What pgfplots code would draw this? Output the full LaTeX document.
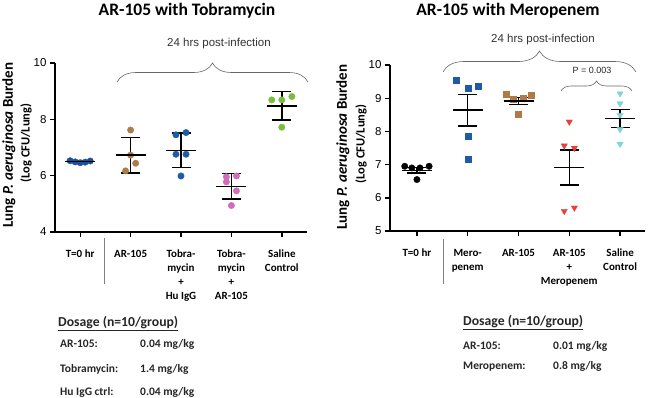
\documentclass[border=0pt]{standalone}
\usepackage{fontspec}
\setmainfont{Carlito}
\newfontfamily\arial{Liberation Sans}
\usepackage{pgfplots}
\pgfplotsset{compat=1.18}
\usetikzlibrary{decorations.pathreplacing}
\definecolor{tzero}{HTML}{1F4E99}
\definecolor{brownc}{HTML}{B07A47}
\definecolor{bluec}{HTML}{1F5AA8}
\definecolor{pinkc}{HTML}{D16CBB}
\definecolor{greenc}{HTML}{78BE3C}
\definecolor{redc}{HTML}{E8403A}
\definecolor{cyanc}{HTML}{7FD4DA}
\definecolor{bracec}{HTML}{666666}
\pgfplotsset{
  myax/.style={scale only axis, anchor=south west, axis lines*=left,
    axis line style={line width=1.4pt, black},
    xtick={0,1,2,3,4},
    tick style={line width=1.4pt, black}, major tick length=5pt, tick align=outside,
    clip=false,
    /pgf/number format/assume math mode=true,
    yticklabel style={font=\arial\fontsize{11.5}{13}\selectfont},
    xticklabel style={font=\bfseries\fontsize{11}{14}\selectfont, align=center, anchor=north, inner sep=0pt, yshift=-13pt},
  },
  dots/.style={only marks, mark=*, mark size=3.2pt, draw=#1, fill=#1},
  sq/.style={only marks, mark=square*, mark size=3pt, draw=#1, fill=#1},
  tri/.style={only marks, mark=triangle*, mark size=3.6pt, draw=#1, fill=#1, mark options={rotate=180}},
  meanerr/.style={black, only marks, mark=-, mark size=15pt, mark options={line width=1.4pt},
    error bars/.cd, y dir=both, y explicit, error bar style={line width=1.4pt},
    error mark=|, error mark options={line width=1.4pt, mark size=9.5pt}},
}
\begin{document}
\begin{tikzpicture}
\path[use as bounding box] (0,0) rectangle (648pt,-397pt);
% ---------- Left panel ----------
\begin{axis}[myax, at={(55pt,-232pt)}, width=252pt, height=169pt,
  xmin=-0.5, xmax=4.5, ymin=4, ymax=10, ytick={4,6,8,10},
  xticklabels={{T=0 hr}, AR-105, {Tobra-\\mycin\\+\\Hu IgG}, {Tobra-\\mycin\\+\\AR-105}, {Saline\\Control}}]
\addplot[dots=tzero] coordinates {(-0.2,6.53) (-0.1,6.49) (0,6.46) (0.1,6.48) (0.2,6.52)};
\addplot[dots=brownc] coordinates {(1,7.62) (1.1,6.44) (1,6.73) (0.9,6.17)};
\addplot[dots=bluec] coordinates {(1.9,7.45) (2.1,7.53) (1.9,6.76) (2.1,6.76) (2,5.99)};
\addplot[dots=pinkc] coordinates {(2.9,5.96) (3.1,5.99) (2.9,5.78) (3.1,5.46) (3,4.94)};
\addplot[dots=greenc] coordinates {(3.8,8.69) (4,8.69) (4.2,8.81) (4,7.72)};
\addplot[meanerr] coordinates {(0,6.50) +- (0,0.03) (1,6.73) +- (0,0.63) (2,6.90) +- (0,0.62) (3,5.62) +- (0,0.45) (4,8.48) +- (0,0.51)};
\end{axis}
% ---------- Right panel ----------
\begin{axis}[myax, at={(390pt,-231pt)}, width=255pt, height=166pt,
  xmin=-0.53, xmax=4.49, ymin=5, ymax=10, ytick={5,6,7,8,9,10},
  xticklabels={{T=0 hr}, {Mero-\\penem}, AR-105, {AR-105\\+\\Meropenem}, {Saline\\Control}}]
\addplot[dots=black] coordinates {(-0.24,6.95) (-0.1,6.90) (0.06,6.90) (0.24,6.95) (0,6.55)};
\addplot[sq=bluec] coordinates {(0.77,9.53) (1,9.30) (1.2,9.37) (1,7.87) (1,7.16)};
\addplot[sq=brownc] coordinates {(1.75,9.11) (2.24,9.09) (2,8.52) (1.9,8.98) (2.1,9.00)};
\addplot[tri=redc] coordinates {(3,8.29) (2.9,7.57) (3.1,7.50) (2.9,5.60) (3.1,5.70)};
\addplot[tri=cyanc] coordinates {(4,9.14) (4,8.84) (4,8.49) (4,8.06) (4,7.62)};
\addplot[meanerr] coordinates {(0,6.83) +- (0,0.08) (1,8.64) +- (0,0.48) (2,8.92) +- (0,0.11) (3,6.91) +- (0,0.53) (4,8.39) +- (0,0.27)};
\end{axis}
% ---------- annotations ----------
\node[font=\bfseries\fontsize{17.5}{19}\selectfont] at (187pt,-11pt) {AR-105 with Tobramycin};
\node[font=\bfseries\fontsize{17.5}{19}\selectfont] at (508pt,-11pt) {AR-105 with Meropenem};
\node[font=\arial\fontsize{11.5}{13}\selectfont, text=black!80] at (219pt,-44pt) {24 hrs post-infection};
\node[font=\arial\fontsize{11.5}{13}\selectfont, text=black!80] at (543pt,-40pt) {24 hrs post-infection};
\node[font=\arial\fontsize{9}{10}\selectfont, text=black!85] at (592pt,-70pt) {P = 0.003};
\draw[bracec, line width=0.6pt, decorate, decoration={brace, amplitude=19pt}] (117pt,-82pt) -- (308pt,-82pt);
\draw[bracec, line width=0.6pt, decorate, decoration={brace, amplitude=21pt}] (443pt,-72pt) -- (636pt,-72pt);
\draw[bracec, line width=0.6pt, decorate, decoration={brace, amplitude=10pt}] (561pt,-91pt) -- (632pt,-91pt);
\draw[gray, line width=0.9pt] (104pt,-238pt) -- (104pt,-284pt);
\draw[gray, line width=0.9pt] (443pt,-239pt) -- (443pt,-284pt);
% y labels
\node[rotate=90, font=\bfseries\fontsize{15}{17}\selectfont] at (9pt,-145pt) {Lung \textit{P. aeruginosa} Burden};
\node[rotate=90, font=\bfseries\fontsize{12.5}{14}\selectfont] at (26pt,-143pt) {(Log CFU/Lung)};
\node[rotate=90, font=\bfseries\fontsize{15}{17}\selectfont] at (343pt,-147pt) {Lung \textit{P. aeruginosa} Burden};
\node[rotate=90, font=\bfseries\fontsize{12.5}{14}\selectfont] at (361pt,-144pt) {(Log CFU/Lung)};
% dosage
\begin{scope}[every node/.style={anchor=base west, inner sep=0pt, font=\bfseries\fontsize{11.5}{13}\selectfont, text=black!85}]
\node[font=\bfseries\fontsize{13.7}{15}\selectfont] at (58pt,-326pt) {\underline{Dosage (n=10/group)}};
\node at (60pt,-347pt) {AR-105:};
\node at (140pt,-347pt) {0.04 mg/kg};
\node at (60pt,-372pt) {Tobramycin:};
\node at (140pt,-372pt) {1.4 mg/kg};
\node at (60pt,-395pt) {Hu IgG ctrl:};
\node at (140pt,-395pt) {0.04 mg/kg};
\node[font=\bfseries\fontsize{13.7}{15}\selectfont] at (463pt,-325pt) {\underline{Dosage (n=10/group)}};
\node at (463pt,-349pt) {AR-105:};
\node at (553pt,-349pt) {0.01 mg/kg};
\node at (463pt,-369pt) {Meropenem:};
\node at (553pt,-369pt) {0.8 mg/kg};
\end{scope}
\end{tikzpicture}
\end{document}
